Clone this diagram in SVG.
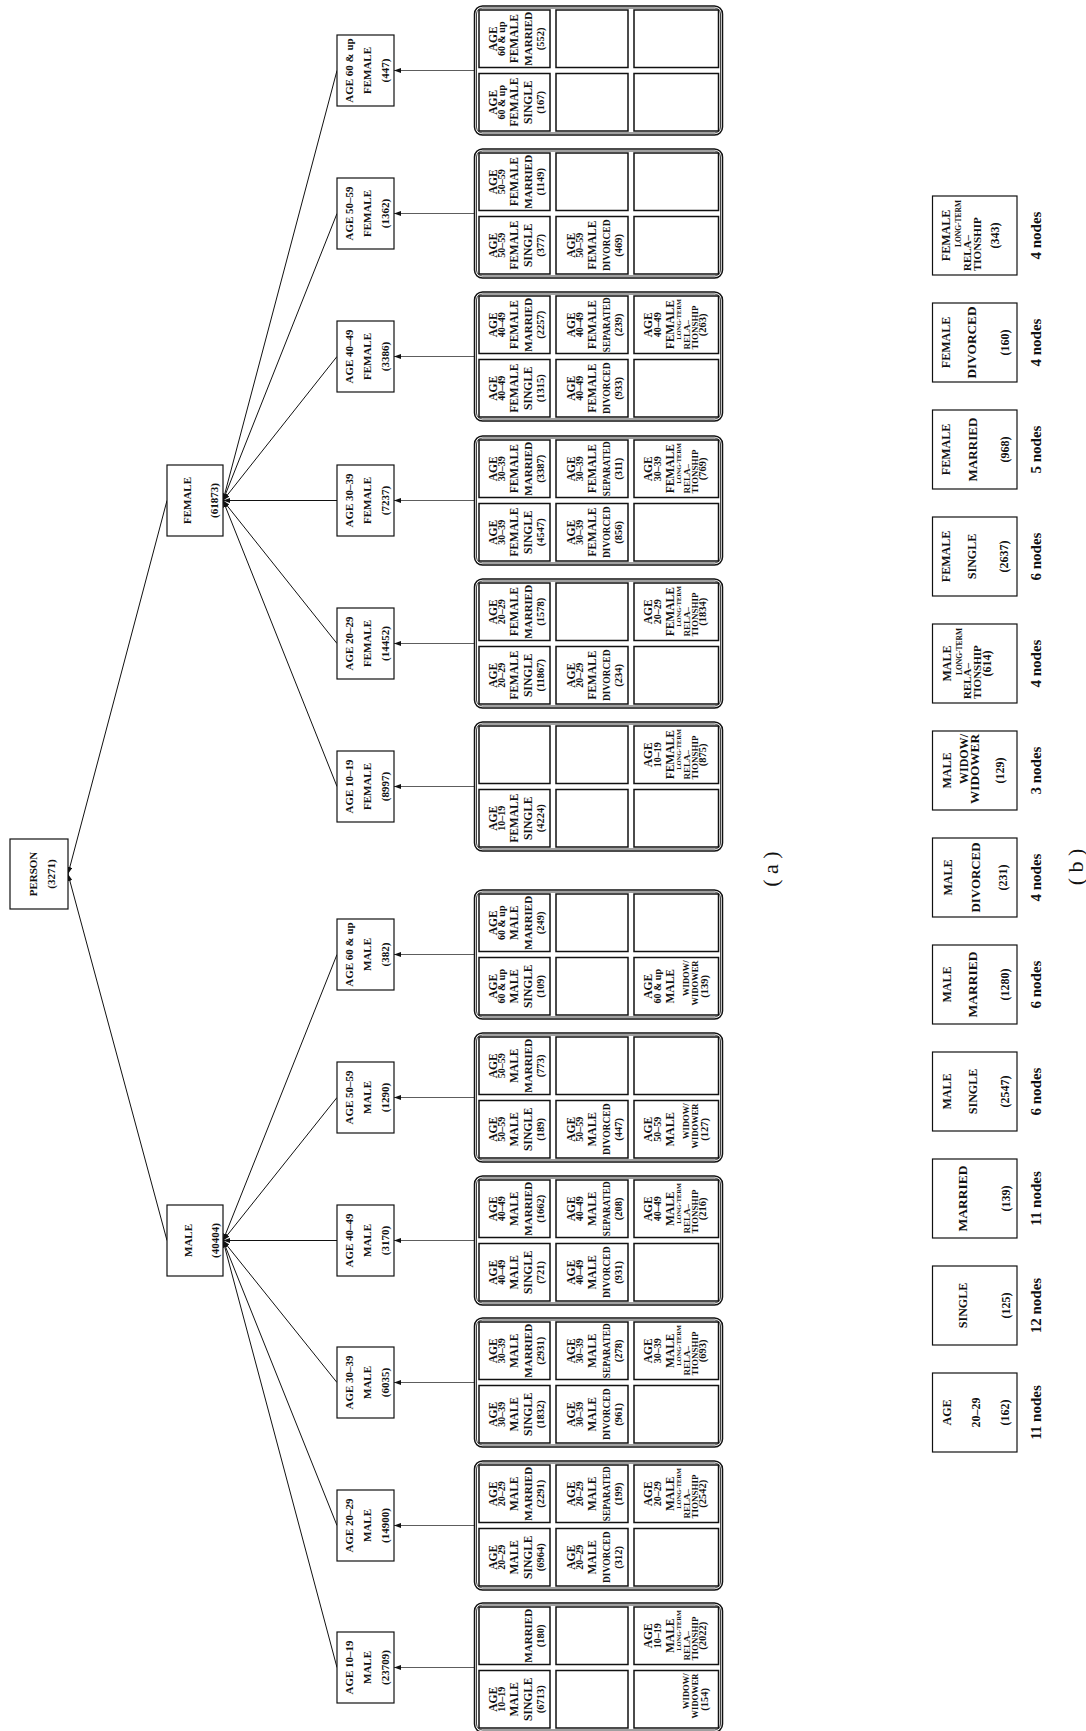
<svg xmlns="http://www.w3.org/2000/svg" xmlns:xlink="http://www.w3.org/1999/xlink" width="1086" height="1731" viewBox="0 0 1086 1731">
<style>
.c{font-family:"Liberation Serif","Times New Roman",serif;font-weight:bold;fill:#111;text-anchor:middle}
.a{font-size:11.5px}
.r{font-size:10px}
.n{font-size:10.5px}
.d{font-size:9.5px}
.m{font-size:11px}
.lt{font-size:6.5px;text-anchor:end}
.rl{font-size:9px;text-anchor:start}
.w{font-size:8.5px;text-anchor:end}
.tn{font-family:"Liberation Serif","Times New Roman",serif;font-weight:bold;font-size:11px;fill:#111;text-anchor:middle}
.bt{font-family:"Liberation Serif","Times New Roman",serif;font-weight:bold;font-size:12px;fill:#111;text-anchor:middle}
.blt{font-size:7.5px;text-anchor:end}
.brl{font-size:11px;text-anchor:start}
.bw{text-anchor:end}
.nodes{font-size:15px}
.lab{font-size:22px;font-weight:normal}
.nb{fill:#fff;stroke:#111;stroke-width:1.2}
.bo{fill:#fff;stroke:#111;stroke-width:1.5}
.bi{fill:none;stroke:#111;stroke-width:0.8}
.cl{fill:#fff;stroke:#111;stroke-width:1.5}
.e{fill:none;stroke:#111;stroke-width:1;marker-end:url(#ah)}
.e2{fill:none;stroke:#333;stroke-width:0.8;marker-end:url(#ah)}
</style>
<defs>
<marker id="ah" viewBox="0 0 7 5" refX="7" refY="2.5" markerWidth="7" markerHeight="5" markerUnits="userSpaceOnUse" orient="auto"><path d="M0,0 L7,2.5 L0,5 z" fill="#111"/></marker>
<g id="grid">
<rect class="bo" x="0" y="474.5" width="129" height="248" rx="8"/>
<rect class="bi" x="2" y="476.5" width="125" height="244" rx="6"/>
<rect class="cl" x="4" y="479" width="57.5" height="71"/>
<rect class="cl" x="67.5" y="479" width="57.5" height="71"/>
<rect class="cl" x="4" y="556" width="57.5" height="72"/>
<rect class="cl" x="67.5" y="556" width="57.5" height="72"/>
<rect class="cl" x="4" y="634" width="57.5" height="84.5"/>
<rect class="cl" x="67.5" y="634" width="57.5" height="84.5"/>
</g>
</defs>
<rect x="0" y="0" width="1086" height="1731" fill="#fff"/>
<g transform="matrix(0,-1,1,0,0,1731)">
<g id="connectors">
<line class="e" x1="490.5" y1="167" x2="857" y2="68"/>
<line class="e" x1="1230.5" y1="167" x2="857" y2="68"/>
<line class="e" x1="1660.5" y1="337" x2="1230.5" y2="223"/>
<line class="e" x1="1517.5" y1="337" x2="1230.5" y2="223"/>
<line class="e" x1="1374.5" y1="337" x2="1230.5" y2="223"/>
<line class="e" x1="1230.5" y1="337" x2="1230.5" y2="223"/>
<line class="e" x1="1087.5" y1="337" x2="1230.5" y2="223"/>
<line class="e" x1="944.5" y1="337" x2="1230.5" y2="223"/>
<line class="e" x1="776.5" y1="337" x2="490.5" y2="223"/>
<line class="e" x1="633.5" y1="337" x2="490.5" y2="223"/>
<line class="e" x1="490.5" y1="337" x2="490.5" y2="223"/>
<line class="e" x1="348.5" y1="337" x2="490.5" y2="223"/>
<line class="e" x1="205.5" y1="337" x2="490.5" y2="223"/>
<line class="e" x1="63.5" y1="337" x2="490.5" y2="223"/>
<line class="e2" x1="1660.5" y1="474.5" x2="1660.5" y2="394"/>
<line class="e2" x1="1517.5" y1="474.5" x2="1517.5" y2="394"/>
<line class="e2" x1="1374.5" y1="474.5" x2="1374.5" y2="394"/>
<line class="e2" x1="1230.5" y1="474.5" x2="1230.5" y2="394"/>
<line class="e2" x1="1087.5" y1="474.5" x2="1087.5" y2="394"/>
<line class="e2" x1="944.5" y1="474.5" x2="944.5" y2="394"/>
<line class="e2" x1="776.5" y1="474.5" x2="776.5" y2="394"/>
<line class="e2" x1="633.5" y1="474.5" x2="633.5" y2="394"/>
<line class="e2" x1="490.5" y1="474.5" x2="490.5" y2="394"/>
<line class="e2" x1="348.5" y1="474.5" x2="348.5" y2="394"/>
<line class="e2" x1="205.5" y1="474.5" x2="205.5" y2="394"/>
<line class="e2" x1="63.5" y1="474.5" x2="63.5" y2="394"/>
</g>

<g id="person" transform="translate(857,0)"><rect class="nb" x="-35" y="10" width="70" height="58"/><text class="tn" x="0" y="37">PERSON</text><text class="tn" x="0" y="55">(3271)</text></g>
<g id="male" transform="translate(490.5,0)"><rect class="nb" x="-35.5" y="167" width="71" height="56"/><text class="tn" x="0" y="192">MALE</text><text class="tn" x="0" y="219">(40404)</text></g>
<g id="female" transform="translate(1230.5,0)"><rect class="nb" x="-35.5" y="167" width="71" height="56"/><text class="tn" x="0" y="191">FEMALE</text><text class="tn" x="0" y="218">(61873)</text></g>

<g id="age-f60" transform="translate(1660.5,0)"><rect class="nb" x="-35.5" y="337" width="71" height="57"/><text class="tn" x="0" y="352.5">AGE 60 &amp; up</text><text class="tn" x="0" y="370.5">FEMALE</text><text class="tn" x="0" y="389">(447)</text></g>
<g id="age-f50" transform="translate(1517.5,0)"><rect class="nb" x="-35.5" y="337" width="71" height="57"/><text class="tn" x="0" y="352.5">AGE 50–59</text><text class="tn" x="0" y="370.5">FEMALE</text><text class="tn" x="0" y="389">(1362)</text></g>
<g id="age-f40" transform="translate(1374.5,0)"><rect class="nb" x="-35.5" y="337" width="71" height="57"/><text class="tn" x="0" y="352.5">AGE 40–49</text><text class="tn" x="0" y="370.5">FEMALE</text><text class="tn" x="0" y="389">(3386)</text></g>
<g id="age-f30" transform="translate(1230.5,0)"><rect class="nb" x="-35.5" y="337" width="71" height="57"/><text class="tn" x="0" y="352.5">AGE 30–39</text><text class="tn" x="0" y="370.5">FEMALE</text><text class="tn" x="0" y="389">(7237)</text></g>
<g id="age-f20" transform="translate(1087.5,0)"><rect class="nb" x="-35.5" y="337" width="71" height="57"/><text class="tn" x="0" y="352.5">AGE 20–29</text><text class="tn" x="0" y="370.5">FEMALE</text><text class="tn" x="0" y="389">(14452)</text></g>
<g id="age-f10" transform="translate(944.5,0)"><rect class="nb" x="-35.5" y="337" width="71" height="57"/><text class="tn" x="0" y="352.5">AGE 10–19</text><text class="tn" x="0" y="370.5">FEMALE</text><text class="tn" x="0" y="389">(8997)</text></g>
<g id="age-m60" transform="translate(776.5,0)"><rect class="nb" x="-35.5" y="337" width="71" height="57"/><text class="tn" x="0" y="352.5">AGE 60 &amp; up</text><text class="tn" x="0" y="370.5">MALE</text><text class="tn" x="0" y="389">(382)</text></g>
<g id="age-m50" transform="translate(633.5,0)"><rect class="nb" x="-35.5" y="337" width="71" height="57"/><text class="tn" x="0" y="352.5">AGE 50–59</text><text class="tn" x="0" y="370.5">MALE</text><text class="tn" x="0" y="389">(1290)</text></g>
<g id="age-m40" transform="translate(490.5,0)"><rect class="nb" x="-35.5" y="337" width="71" height="57"/><text class="tn" x="0" y="352.5">AGE 40–49</text><text class="tn" x="0" y="370.5">MALE</text><text class="tn" x="0" y="389">(3170)</text></g>
<g id="age-m30" transform="translate(348.5,0)"><rect class="nb" x="-35.5" y="337" width="71" height="57"/><text class="tn" x="0" y="352.5">AGE 30–39</text><text class="tn" x="0" y="370.5">MALE</text><text class="tn" x="0" y="389">(6035)</text></g>
<g id="age-m20" transform="translate(205.5,0)"><rect class="nb" x="-35.5" y="337" width="71" height="57"/><text class="tn" x="0" y="352.5">AGE 20–29</text><text class="tn" x="0" y="370.5">MALE</text><text class="tn" x="0" y="389">(14900)</text></g>
<g id="age-m10" transform="translate(63.5,0)"><rect class="nb" x="-35.5" y="337" width="71" height="57"/><text class="tn" x="0" y="352.5">AGE 10–19</text><text class="tn" x="0" y="370.5">MALE</text><text class="tn" x="0" y="389">(23709)</text></g>

<g id="grid-f60" transform="translate(1596,0)"><use href="#grid"/>
<text class="c a" x="32.75" y="497">AGE</text><text class="c r" x="32.75" y="505">60 &amp; up</text><text class="c a" x="32.75" y="518">FEMALE</text><text class="c a" x="32.75" y="531.5">SINGLE</text><text class="c n" x="32.75" y="544">(167)</text>
<text class="c a" x="96.25" y="497">AGE</text><text class="c r" x="96.25" y="505">60 &amp; up</text><text class="c a" x="96.25" y="518">FEMALE</text><text class="c m" x="96.25" y="531.5">MARRIED</text><text class="c n" x="96.25" y="544">(552)</text>
</g>
<g id="grid-f50" transform="translate(1453,0)"><use href="#grid"/>
<text class="c a" x="32.75" y="497">AGE</text><text class="c r" x="32.75" y="505">50–59</text><text class="c a" x="32.75" y="518">FEMALE</text><text class="c a" x="32.75" y="531.5">SINGLE</text><text class="c n" x="32.75" y="544">(377)</text>
<text class="c a" x="96.25" y="497">AGE</text><text class="c r" x="96.25" y="505">50–59</text><text class="c a" x="96.25" y="518">FEMALE</text><text class="c m" x="96.25" y="531.5">MARRIED</text><text class="c n" x="96.25" y="544">(1149)</text>
<text class="c a" x="32.75" y="575">AGE</text><text class="c r" x="32.75" y="583">50–59</text><text class="c a" x="32.75" y="596">FEMALE</text><text class="c d" x="32.75" y="609.5">DIVORCED</text><text class="c n" x="32.75" y="622">(469)</text>
</g>
<g id="grid-f40" transform="translate(1310,0)"><use href="#grid"/>
<text class="c a" x="32.75" y="497">AGE</text><text class="c r" x="32.75" y="505">40–49</text><text class="c a" x="32.75" y="518">FEMALE</text><text class="c a" x="32.75" y="531.5">SINGLE</text><text class="c n" x="32.75" y="544">(1315)</text>
<text class="c a" x="96.25" y="497">AGE</text><text class="c r" x="96.25" y="505">40–49</text><text class="c a" x="96.25" y="518">FEMALE</text><text class="c m" x="96.25" y="531.5">MARRIED</text><text class="c n" x="96.25" y="544">(2257)</text>
<text class="c a" x="32.75" y="575">AGE</text><text class="c r" x="32.75" y="583">40–49</text><text class="c a" x="32.75" y="596">FEMALE</text><text class="c d" x="32.75" y="609.5">DIVORCED</text><text class="c n" x="32.75" y="622">(933)</text>
<text class="c a" x="96.25" y="575">AGE</text><text class="c r" x="96.25" y="583">40–49</text><text class="c a" x="96.25" y="596">FEMALE</text><text class="c m" x="96.25" y="609.5" textLength="55" lengthAdjust="spacingAndGlyphs">SEPARATED</text><text class="c n" x="96.25" y="622">(239)</text>
<text class="c a" x="96.25" y="652">AGE</text><text class="c r" x="96.25" y="661">40–49</text><text class="c a" x="96.25" y="674">FEMALE</text><text class="c lt" x="122" y="681">LONG-TERM</text><text class="c rl" x="71.5" y="689.5">RELA–</text><text class="c rl" x="71.5" y="697.5">TIONSHIP</text><text class="c n" x="96.25" y="706">(263)</text>
</g>
<g id="grid-f30" transform="translate(1166,0)"><use href="#grid"/>
<text class="c a" x="32.75" y="497">AGE</text><text class="c r" x="32.75" y="505">30–39</text><text class="c a" x="32.75" y="518">FEMALE</text><text class="c a" x="32.75" y="531.5">SINGLE</text><text class="c n" x="32.75" y="544">(4547)</text>
<text class="c a" x="96.25" y="497">AGE</text><text class="c r" x="96.25" y="505">30–39</text><text class="c a" x="96.25" y="518">FEMALE</text><text class="c m" x="96.25" y="531.5">MARRIED</text><text class="c n" x="96.25" y="544">(3387)</text>
<text class="c a" x="32.75" y="575">AGE</text><text class="c r" x="32.75" y="583">30–39</text><text class="c a" x="32.75" y="596">FEMALE</text><text class="c d" x="32.75" y="609.5">DIVORCED</text><text class="c n" x="32.75" y="622">(856)</text>
<text class="c a" x="96.25" y="575">AGE</text><text class="c r" x="96.25" y="583">30–39</text><text class="c a" x="96.25" y="596">FEMALE</text><text class="c m" x="96.25" y="609.5" textLength="55" lengthAdjust="spacingAndGlyphs">SEPARATED</text><text class="c n" x="96.25" y="622">(311)</text>
<text class="c a" x="96.25" y="652">AGE</text><text class="c r" x="96.25" y="661">30–39</text><text class="c a" x="96.25" y="674">FEMALE</text><text class="c lt" x="122" y="681">LONG-TERM</text><text class="c rl" x="71.5" y="689.5">RELA–</text><text class="c rl" x="71.5" y="697.5">TIONSHIP</text><text class="c n" x="96.25" y="706">(769)</text>
</g>
<g id="grid-f20" transform="translate(1023,0)"><use href="#grid"/>
<text class="c a" x="32.75" y="497">AGE</text><text class="c r" x="32.75" y="505">20–29</text><text class="c a" x="32.75" y="518">FEMALE</text><text class="c a" x="32.75" y="531.5">SINGLE</text><text class="c n" x="32.75" y="544">(11867)</text>
<text class="c a" x="96.25" y="497">AGE</text><text class="c r" x="96.25" y="505">20–29</text><text class="c a" x="96.25" y="518">FEMALE</text><text class="c m" x="96.25" y="531.5">MARRIED</text><text class="c n" x="96.25" y="544">(1578)</text>
<text class="c a" x="32.75" y="575">AGE</text><text class="c r" x="32.75" y="583">20–29</text><text class="c a" x="32.75" y="596">FEMALE</text><text class="c d" x="32.75" y="609.5">DIVORCED</text><text class="c n" x="32.75" y="622">(234)</text>
<text class="c a" x="96.25" y="652">AGE</text><text class="c r" x="96.25" y="661">20–29</text><text class="c a" x="96.25" y="674">FEMALE</text><text class="c lt" x="122" y="681">LONG-TERM</text><text class="c rl" x="71.5" y="689.5">RELA–</text><text class="c rl" x="71.5" y="697.5">TIONSHIP</text><text class="c n" x="96.25" y="706">(1834)</text>
</g>
<g id="grid-f10" transform="translate(880,0)"><use href="#grid"/>
<text class="c a" x="32.75" y="497">AGE</text><text class="c r" x="32.75" y="505">10–19</text><text class="c a" x="32.75" y="518">FEMALE</text><text class="c a" x="32.75" y="531.5">SINGLE</text><text class="c n" x="32.75" y="544">(4224)</text>
<text class="c a" x="96.25" y="652">AGE</text><text class="c r" x="96.25" y="661">10–19</text><text class="c a" x="96.25" y="674">FEMALE</text><text class="c lt" x="122" y="681">LONG-TERM</text><text class="c rl" x="71.5" y="689.5">RELA–</text><text class="c rl" x="71.5" y="697.5">TIONSHIP</text><text class="c n" x="96.25" y="706">(875)</text>
</g>
<g id="grid-m60" transform="translate(712,0)"><use href="#grid"/>
<text class="c a" x="32.75" y="497">AGE</text><text class="c r" x="32.75" y="505">60 &amp; up</text><text class="c a" x="32.75" y="518">MALE</text><text class="c a" x="32.75" y="531.5">SINGLE</text><text class="c n" x="32.75" y="544">(109)</text>
<text class="c a" x="96.25" y="497">AGE</text><text class="c r" x="96.25" y="505">60 &amp; up</text><text class="c a" x="96.25" y="518">MALE</text><text class="c m" x="96.25" y="531.5">MARRIED</text><text class="c n" x="96.25" y="544">(249)</text>
<text class="c a" x="32.75" y="652">AGE</text><text class="c r" x="32.75" y="661">60 &amp; up</text><text class="c a" x="32.75" y="674">MALE</text><text class="c w" x="58.5" y="689">WIDOW/</text><text class="c w" x="58.5" y="697.5">WIDOWER</text><text class="c n" x="32.75" y="707.5">(139)</text>
</g>
<g id="grid-m50" transform="translate(569,0)"><use href="#grid"/>
<text class="c a" x="32.75" y="497">AGE</text><text class="c r" x="32.75" y="505">50–59</text><text class="c a" x="32.75" y="518">MALE</text><text class="c a" x="32.75" y="531.5">SINGLE</text><text class="c n" x="32.75" y="544">(189)</text>
<text class="c a" x="96.25" y="497">AGE</text><text class="c r" x="96.25" y="505">50–59</text><text class="c a" x="96.25" y="518">MALE</text><text class="c m" x="96.25" y="531.5">MARRIED</text><text class="c n" x="96.25" y="544">(773)</text>
<text class="c a" x="32.75" y="575">AGE</text><text class="c r" x="32.75" y="583">50–59</text><text class="c a" x="32.75" y="596">MALE</text><text class="c d" x="32.75" y="609.5">DIVORCED</text><text class="c n" x="32.75" y="622">(447)</text>
<text class="c a" x="32.75" y="652">AGE</text><text class="c r" x="32.75" y="661">50–59</text><text class="c a" x="32.75" y="674">MALE</text><text class="c w" x="58.5" y="689">WIDOW/</text><text class="c w" x="58.5" y="697.5">WIDOWER</text><text class="c n" x="32.75" y="707.5">(127)</text>
</g>
<g id="grid-m40" transform="translate(426,0)"><use href="#grid"/>
<text class="c a" x="32.75" y="497">AGE</text><text class="c r" x="32.75" y="505">40–49</text><text class="c a" x="32.75" y="518">MALE</text><text class="c a" x="32.75" y="531.5">SINGLE</text><text class="c n" x="32.75" y="544">(721)</text>
<text class="c a" x="96.25" y="497">AGE</text><text class="c r" x="96.25" y="505">40–49</text><text class="c a" x="96.25" y="518">MALE</text><text class="c m" x="96.25" y="531.5">MARRIED</text><text class="c n" x="96.25" y="544">(1662)</text>
<text class="c a" x="32.75" y="575">AGE</text><text class="c r" x="32.75" y="583">40–49</text><text class="c a" x="32.75" y="596">MALE</text><text class="c d" x="32.75" y="609.5">DIVORCED</text><text class="c n" x="32.75" y="622">(931)</text>
<text class="c a" x="96.25" y="575">AGE</text><text class="c r" x="96.25" y="583">40–49</text><text class="c a" x="96.25" y="596">MALE</text><text class="c m" x="96.25" y="609.5" textLength="55" lengthAdjust="spacingAndGlyphs">SEPARATED</text><text class="c n" x="96.25" y="622">(208)</text>
<text class="c a" x="96.25" y="652">AGE</text><text class="c r" x="96.25" y="661">40–49</text><text class="c a" x="96.25" y="674">MALE</text><text class="c lt" x="122" y="681">LONG-TERM</text><text class="c rl" x="71.5" y="689.5">RELA–</text><text class="c rl" x="71.5" y="697.5">TIONSHIP</text><text class="c n" x="96.25" y="706">(216)</text>
</g>
<g id="grid-m30" transform="translate(284,0)"><use href="#grid"/>
<text class="c a" x="32.75" y="497">AGE</text><text class="c r" x="32.75" y="505">30–39</text><text class="c a" x="32.75" y="518">MALE</text><text class="c a" x="32.75" y="531.5">SINGLE</text><text class="c n" x="32.75" y="544">(1832)</text>
<text class="c a" x="96.25" y="497">AGE</text><text class="c r" x="96.25" y="505">30–39</text><text class="c a" x="96.25" y="518">MALE</text><text class="c m" x="96.25" y="531.5">MARRIED</text><text class="c n" x="96.25" y="544">(2931)</text>
<text class="c a" x="32.75" y="575">AGE</text><text class="c r" x="32.75" y="583">30–39</text><text class="c a" x="32.75" y="596">MALE</text><text class="c d" x="32.75" y="609.5">DIVORCED</text><text class="c n" x="32.75" y="622">(961)</text>
<text class="c a" x="96.25" y="575">AGE</text><text class="c r" x="96.25" y="583">30–39</text><text class="c a" x="96.25" y="596">MALE</text><text class="c m" x="96.25" y="609.5" textLength="55" lengthAdjust="spacingAndGlyphs">SEPARATED</text><text class="c n" x="96.25" y="622">(278)</text>
<text class="c a" x="96.25" y="652">AGE</text><text class="c r" x="96.25" y="661">30–39</text><text class="c a" x="96.25" y="674">MALE</text><text class="c lt" x="122" y="681">LONG-TERM</text><text class="c rl" x="71.5" y="689.5">RELA–</text><text class="c rl" x="71.5" y="697.5">TIONSHIP</text><text class="c n" x="96.25" y="706">(693)</text>
</g>
<g id="grid-m20" transform="translate(141,0)"><use href="#grid"/>
<text class="c a" x="32.75" y="497">AGE</text><text class="c r" x="32.75" y="505">20–29</text><text class="c a" x="32.75" y="518">MALE</text><text class="c a" x="32.75" y="531.5">SINGLE</text><text class="c n" x="32.75" y="544">(6964)</text>
<text class="c a" x="96.25" y="497">AGE</text><text class="c r" x="96.25" y="505">20–29</text><text class="c a" x="96.25" y="518">MALE</text><text class="c m" x="96.25" y="531.5">MARRIED</text><text class="c n" x="96.25" y="544">(2291)</text>
<text class="c a" x="32.75" y="575">AGE</text><text class="c r" x="32.75" y="583">20–29</text><text class="c a" x="32.75" y="596">MALE</text><text class="c d" x="32.75" y="609.5">DIVORCED</text><text class="c n" x="32.75" y="622">(312)</text>
<text class="c a" x="96.25" y="575">AGE</text><text class="c r" x="96.25" y="583">20–29</text><text class="c a" x="96.25" y="596">MALE</text><text class="c m" x="96.25" y="609.5" textLength="55" lengthAdjust="spacingAndGlyphs">SEPARATED</text><text class="c n" x="96.25" y="622">(199)</text>
<text class="c a" x="96.25" y="652">AGE</text><text class="c r" x="96.25" y="661">20–29</text><text class="c a" x="96.25" y="674">MALE</text><text class="c lt" x="122" y="681">LONG-TERM</text><text class="c rl" x="71.5" y="689.5">RELA–</text><text class="c rl" x="71.5" y="697.5">TIONSHIP</text><text class="c n" x="96.25" y="706">(2542)</text>
</g>
<g id="grid-m10" transform="translate(-1,0)"><use href="#grid"/>
<text class="c a" x="32.75" y="497">AGE</text><text class="c r" x="32.75" y="505">10–19</text><text class="c a" x="32.75" y="518">MALE</text><text class="c a" x="32.75" y="531.5">SINGLE</text><text class="c n" x="32.75" y="544">(6713)</text>
<text class="c m" x="96.25" y="531.5">MARRIED</text><text class="c n" x="96.25" y="544">(180)</text>
<text class="c w" x="58.5" y="689">WIDOW/</text><text class="c w" x="58.5" y="697.5">WIDOWER</text><text class="c n" x="32.75" y="707.5">(154)</text>
<text class="c a" x="96.25" y="652">AGE</text><text class="c r" x="96.25" y="661">10–19</text><text class="c a" x="96.25" y="674">MALE</text><text class="c lt" x="122" y="681">LONG-TERM</text><text class="c rl" x="71.5" y="689.5">RELA–</text><text class="c rl" x="71.5" y="697.5">TIONSHIP</text><text class="c n" x="96.25" y="706">(2022)</text>
</g>

<text id="label-a" class="bt lab" x="862" y="778">( a )</text>

<g id="b-age" transform="translate(279,0)"><rect class="nb" x="0" y="932.5" width="79" height="84.5"/><text class="bt" x="39.5" y="951">AGE</text><text class="bt" x="39.5" y="980">20–29</text><text class="bt" x="39.5" y="1009">(162)</text><text class="bt nodes" x="39.5" y="1041">11 nodes</text></g>
<g id="b-single" transform="translate(386,0)"><rect class="nb" x="0" y="932.5" width="79" height="84.5"/><text class="bt" x="39.5" y="967">SINGLE</text><text class="bt" x="39.5" y="1010">(125)</text><text class="bt nodes" x="39.5" y="1041">12 nodes</text></g>
<g id="b-married" transform="translate(493,0)"><rect class="nb" x="0" y="932.5" width="79" height="84.5"/><text class="bt" x="39.5" y="967" textLength="66" lengthAdjust="spacingAndGlyphs">MARRIED</text><text class="bt" x="39.5" y="1010">(139)</text><text class="bt nodes" x="39.5" y="1041">11 nodes</text></g>
<g id="b-male-single" transform="translate(600,0)"><rect class="nb" x="0" y="932.5" width="79" height="84.5"/><text class="bt" x="39.5" y="951">MALE</text><text class="bt" x="39.5" y="977">SINGLE</text><text class="bt" x="39.5" y="1009">(2547)</text><text class="bt nodes" x="39.5" y="1041">6 nodes</text></g>
<g id="b-male-married" transform="translate(707,0)"><rect class="nb" x="0" y="932.5" width="79" height="84.5"/><text class="bt" x="39.5" y="951">MALE</text><text class="bt" x="39.5" y="977" textLength="66" lengthAdjust="spacingAndGlyphs">MARRIED</text><text class="bt" x="39.5" y="1009">(1280)</text><text class="bt nodes" x="39.5" y="1041">6 nodes</text></g>
<g id="b-male-divorced" transform="translate(814,0)"><rect class="nb" x="0" y="932.5" width="79" height="84.5"/><text class="bt" x="39.5" y="952">MALE</text><text class="bt" x="39.5" y="980" textLength="70" lengthAdjust="spacingAndGlyphs">DIVORCED</text><text class="bt" x="39.5" y="1007">(231)</text><text class="bt nodes" x="39.5" y="1041">4 nodes</text></g>
<g id="b-male-widow" transform="translate(921,0)"><rect class="nb" x="0" y="932.5" width="79" height="84.5"/><text class="bt" x="39.5" y="951">MALE</text><text class="bt bw" x="76" y="968">WIDOW/</text><text class="bt bw" x="76" y="979" textLength="70" lengthAdjust="spacingAndGlyphs">WIDOWER</text><text class="bt" x="39.5" y="1004">(129)</text><text class="bt nodes" x="39.5" y="1041">3 nodes</text></g>
<g id="b-male-lt" transform="translate(1028,0)"><rect class="nb" x="0" y="932.5" width="79" height="84.5"/><text class="bt" x="39.5" y="951">MALE</text><text class="bt blt" x="75" y="962">LONG-TERM</text><text class="bt brl" x="4" y="971">RELA–</text><text class="bt brl" x="4" y="981">TIONSHIP</text><text class="bt" x="39.5" y="991">(614)</text><text class="bt nodes" x="39.5" y="1041">4 nodes</text></g>
<g id="b-female-single" transform="translate(1135,0)"><rect class="nb" x="0" y="932.5" width="79" height="84.5"/><text class="bt" x="39.5" y="950">FEMALE</text><text class="bt" x="39.5" y="976">SINGLE</text><text class="bt" x="39.5" y="1008">(2637)</text><text class="bt nodes" x="39.5" y="1041">6 nodes</text></g>
<g id="b-female-married" transform="translate(1242,0)"><rect class="nb" x="0" y="932.5" width="79" height="84.5"/><text class="bt" x="39.5" y="950">FEMALE</text><text class="bt" x="39.5" y="977" textLength="64" lengthAdjust="spacingAndGlyphs">MARRIED</text><text class="bt" x="39.5" y="1009">(968)</text><text class="bt nodes" x="39.5" y="1041">5 nodes</text></g>
<g id="b-female-divorced" transform="translate(1349,0)"><rect class="nb" x="0" y="932.5" width="79" height="84.5"/><text class="bt" x="39.5" y="950">FEMALE</text><text class="bt" x="39.5" y="976" textLength="72" lengthAdjust="spacingAndGlyphs">DIVORCED</text><text class="bt" x="39.5" y="1009">(160)</text><text class="bt nodes" x="39.5" y="1041">4 nodes</text></g>
<g id="b-female-lt" transform="translate(1456,0)"><rect class="nb" x="0" y="932.5" width="79" height="84.5"/><text class="bt" x="39.5" y="950">FEMALE</text><text class="bt blt" x="75" y="961">LONG-TERM</text><text class="bt brl" x="4" y="971">RELA–</text><text class="bt brl" x="4" y="981">TIONSHIP</text><text class="bt" x="39.5" y="999">(343)</text><text class="bt nodes" x="39.5" y="1041">4 nodes</text></g>

<text id="label-b" class="bt lab" x="864" y="1083">( b )</text>
</g>
</svg>
